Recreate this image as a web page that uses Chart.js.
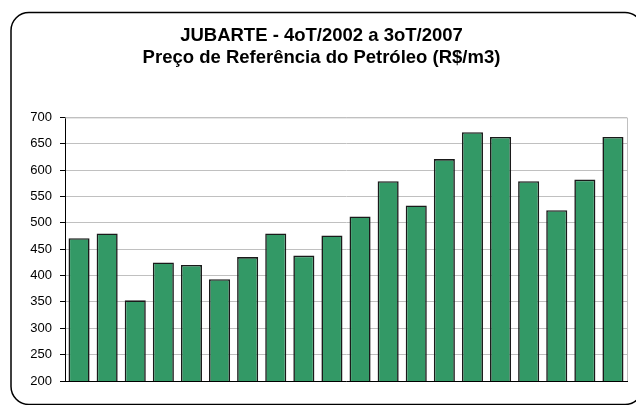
<!DOCTYPE html>
<html>
<head>
<meta charset="utf-8">
<script src="https://cdn.jsdelivr.net/npm/chart.js@4/dist/chart.umd.min.js"></script>
<style>
  html, body { margin: 0; padding: 0; background: #ffffff; }
  #wrap { width: 636px; height: 405px; position: relative; }
</style>
</head>
<body>
<div id="wrap"><canvas id="precoChart"></canvas></div>
<script>
// Quarters 4oT/2002 .. 3oT/2007
const quarters = ['4T02', '1T03', '2T03', '3T03', '4T03', '1T04', '2T04', '3T04', '4T04', '1T05',
                  '2T05', '3T05', '4T05', '1T06', '2T06', '3T06', '4T06', '1T07', '2T07', '3T07'];
const precoRef = [471, 480, 353, 425, 420, 393, 435, 480, 438, 476,
                  512, 579, 533, 621, 672, 663, 579, 524, 582, 663];
const titleLines = ['JUBARTE - 4oT/2002 a 3oT/2007', 'Preço de Referência do Petróleo (R$/m3)'];
const yMin = 200, yMax = 700, yStep = 50;

// Rounded frame around the whole chart (runs a bit past the right/bottom edge)
// + grey plot area border on top and right
const framePlugin = {
    id: 'frame',
    beforeDraw(chart) {
        const ctx = chart.ctx;
        ctx.save();
        ctx.strokeStyle = '#000000';
        ctx.lineWidth = 1.5;
        ctx.beginPath();
        ctx.roundRect(11, 12.5, 632, 392, 18);
        ctx.stroke();
        ctx.restore();
    },
    beforeDatasetsDraw(chart) {
        const a = chart.chartArea;
        const ctx = chart.ctx;
        ctx.save();
        ctx.strokeStyle = '#c0c0c0';
        ctx.lineWidth = 1;
        ctx.beginPath();
        ctx.moveTo(a.left, a.top + 0.5);
        ctx.lineTo(a.right + 0.5, a.top + 0.5);
        ctx.lineTo(a.right + 0.5, a.bottom);
        ctx.stroke();
        ctx.restore();
    }
};

document.addEventListener('DOMContentLoaded', function() {
    Chart.defaults.font.family = '"Liberation Sans", Arial, sans-serif';
    Chart.defaults.color = '#000000';

    new Chart(document.getElementById('precoChart'), {
        type: 'bar',
        data: {
            labels: quarters,
            datasets: [{
                data: precoRef,
                backgroundColor: '#339966',
                borderColor: '#1a1a1a',
                borderWidth: 1.6,
                borderSkipped: false,
                barPercentage: 0.75,
                categoryPercentage: 1.0
            }]
        },
        options: {
            responsive: true,
            maintainAspectRatio: false,
            animation: false,
            layout: {
                padding: { left: 16, right: 9, top: 0, bottom: 16 }
            },
            plugins: {
                legend: { display: false },
                tooltip: { enabled: false },
                title: {
                    display: true,
                    text: titleLines,
                    color: '#000000',
                    font: { size: 18.5, weight: 'bold', lineHeight: 1.2 },
                    padding: { top: 25, bottom: 48 }
                }
            },
            scales: {
                x: {
                    ticks: { display: false },
                    grid: { display: false },
                    border: { color: '#000000', width: 1 }
                },
                y: {
                    min: yMin,
                    max: yMax,
                    ticks: {
                        stepSize: yStep,
                        padding: 8,
                        font: { size: 13 },
                        color: '#000000'
                    },
                    grid: {
                        color: '#c0c0c0',
                        tickColor: '#000000',
                        tickLength: 5
                    },
                    border: { color: '#000000', width: 1 },
                    afterFit: function(scale) {
                        scale.width = 49;
                    }
                }
            }
        },
        plugins: [framePlugin]
    });
});
</script>
</body>
</html>
